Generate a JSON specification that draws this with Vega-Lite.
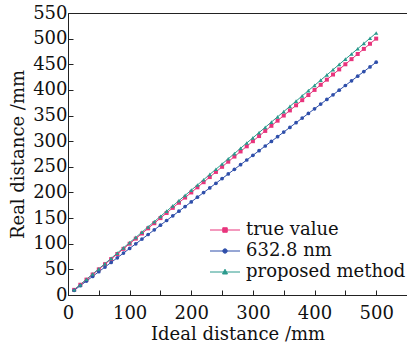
{
  "$schema": "https://vega.github.io/schema/vega-lite/v6.json",
  "autosize": {"type": "none"},
  "padding": {"left": 68, "top": 13, "right": 0, "bottom": 55},
  "width": 339,
  "height": 282,
  "background": "white",
  "config": {
    "font": "DejaVu Serif",
    "view": {"stroke": "#222", "strokeWidth": 1},
    "axis": {"grid": false, "domainColor": "#222", "tickColor": "#222", "labelColor": "#111", "titleColor": "#111", "labelFont": "DejaVu Serif", "titleFont": "DejaVu Serif", "labelFontSize": 18, "titleFontSize": 18, "titleFontWeight": "normal", "tickSize": -5, "labelPadding": 9, "domainWidth": 1}
  },
  "data": {"values": [
    {"x":10,"s":"true value","y":10},{"x":20,"s":"true value","y":20},{"x":30,"s":"true value","y":30},{"x":40,"s":"true value","y":40},{"x":50,"s":"true value","y":50},{"x":60,"s":"true value","y":60},{"x":70,"s":"true value","y":70},{"x":80,"s":"true value","y":80},{"x":90,"s":"true value","y":90},{"x":100,"s":"true value","y":100},
    {"x":110,"s":"true value","y":110},{"x":120,"s":"true value","y":120},{"x":130,"s":"true value","y":130},{"x":140,"s":"true value","y":140},{"x":150,"s":"true value","y":150},{"x":160,"s":"true value","y":160},{"x":170,"s":"true value","y":170},{"x":180,"s":"true value","y":180},{"x":190,"s":"true value","y":190},{"x":200,"s":"true value","y":200},
    {"x":210,"s":"true value","y":210},{"x":220,"s":"true value","y":220},{"x":230,"s":"true value","y":230},{"x":240,"s":"true value","y":240},{"x":250,"s":"true value","y":250},{"x":260,"s":"true value","y":260},{"x":270,"s":"true value","y":270},{"x":280,"s":"true value","y":280},{"x":290,"s":"true value","y":290},{"x":300,"s":"true value","y":300},
    {"x":310,"s":"true value","y":310},{"x":320,"s":"true value","y":320},{"x":330,"s":"true value","y":330},{"x":340,"s":"true value","y":340},{"x":350,"s":"true value","y":350},{"x":360,"s":"true value","y":360},{"x":370,"s":"true value","y":370},{"x":380,"s":"true value","y":380},{"x":390,"s":"true value","y":390},{"x":400,"s":"true value","y":400},
    {"x":410,"s":"true value","y":410},{"x":420,"s":"true value","y":420},{"x":430,"s":"true value","y":430},{"x":440,"s":"true value","y":440},{"x":450,"s":"true value","y":450},{"x":460,"s":"true value","y":460},{"x":470,"s":"true value","y":470},{"x":480,"s":"true value","y":480},{"x":490,"s":"true value","y":490},{"x":500,"s":"true value","y":500},
    {"x":10,"s":"632.8 nm","y":9.1},{"x":20,"s":"632.8 nm","y":18.2},{"x":30,"s":"632.8 nm","y":27.2},{"x":40,"s":"632.8 nm","y":36.3},{"x":50,"s":"632.8 nm","y":45.4},{"x":60,"s":"632.8 nm","y":54.5},{"x":70,"s":"632.8 nm","y":63.6},{"x":80,"s":"632.8 nm","y":72.6},{"x":90,"s":"632.8 nm","y":81.7},{"x":100,"s":"632.8 nm","y":90.8},
    {"x":110,"s":"632.8 nm","y":99.9},{"x":120,"s":"632.8 nm","y":109.0},{"x":130,"s":"632.8 nm","y":118.0},{"x":140,"s":"632.8 nm","y":127.1},{"x":150,"s":"632.8 nm","y":136.2},{"x":160,"s":"632.8 nm","y":145.3},{"x":170,"s":"632.8 nm","y":154.4},{"x":180,"s":"632.8 nm","y":163.4},{"x":190,"s":"632.8 nm","y":172.5},{"x":200,"s":"632.8 nm","y":181.6},
    {"x":210,"s":"632.8 nm","y":190.7},{"x":220,"s":"632.8 nm","y":199.8},{"x":230,"s":"632.8 nm","y":208.8},{"x":240,"s":"632.8 nm","y":217.9},{"x":250,"s":"632.8 nm","y":227.0},{"x":260,"s":"632.8 nm","y":236.1},{"x":270,"s":"632.8 nm","y":245.2},{"x":280,"s":"632.8 nm","y":254.2},{"x":290,"s":"632.8 nm","y":263.3},{"x":300,"s":"632.8 nm","y":272.4},
    {"x":310,"s":"632.8 nm","y":281.5},{"x":320,"s":"632.8 nm","y":290.6},{"x":330,"s":"632.8 nm","y":299.6},{"x":340,"s":"632.8 nm","y":308.7},{"x":350,"s":"632.8 nm","y":317.8},{"x":360,"s":"632.8 nm","y":326.9},{"x":370,"s":"632.8 nm","y":336.0},{"x":380,"s":"632.8 nm","y":345.0},{"x":390,"s":"632.8 nm","y":354.1},{"x":400,"s":"632.8 nm","y":363.2},
    {"x":410,"s":"632.8 nm","y":372.3},{"x":420,"s":"632.8 nm","y":381.4},{"x":430,"s":"632.8 nm","y":390.4},{"x":440,"s":"632.8 nm","y":399.5},{"x":450,"s":"632.8 nm","y":408.6},{"x":460,"s":"632.8 nm","y":417.7},{"x":470,"s":"632.8 nm","y":426.8},{"x":480,"s":"632.8 nm","y":435.8},{"x":490,"s":"632.8 nm","y":444.9},{"x":500,"s":"632.8 nm","y":454.0},
    {"x":10,"s":"proposed method","y":10.2},{"x":20,"s":"proposed method","y":20.4},{"x":30,"s":"proposed method","y":30.7},{"x":40,"s":"proposed method","y":40.9},{"x":50,"s":"proposed method","y":51.1},{"x":60,"s":"proposed method","y":61.3},{"x":70,"s":"proposed method","y":71.5},{"x":80,"s":"proposed method","y":81.8},{"x":90,"s":"proposed method","y":92.0},{"x":100,"s":"proposed method","y":102.2},
    {"x":110,"s":"proposed method","y":112.4},{"x":120,"s":"proposed method","y":122.6},{"x":130,"s":"proposed method","y":132.9},{"x":140,"s":"proposed method","y":143.1},{"x":150,"s":"proposed method","y":153.3},{"x":160,"s":"proposed method","y":163.5},{"x":170,"s":"proposed method","y":173.7},{"x":180,"s":"proposed method","y":184.0},{"x":190,"s":"proposed method","y":194.2},{"x":200,"s":"proposed method","y":204.4},
    {"x":210,"s":"proposed method","y":214.6},{"x":220,"s":"proposed method","y":224.8},{"x":230,"s":"proposed method","y":235.1},{"x":240,"s":"proposed method","y":245.3},{"x":250,"s":"proposed method","y":255.5},{"x":260,"s":"proposed method","y":265.7},{"x":270,"s":"proposed method","y":275.9},{"x":280,"s":"proposed method","y":286.2},{"x":290,"s":"proposed method","y":296.4},{"x":300,"s":"proposed method","y":306.6},
    {"x":310,"s":"proposed method","y":316.8},{"x":320,"s":"proposed method","y":327.0},{"x":330,"s":"proposed method","y":337.3},{"x":340,"s":"proposed method","y":347.5},{"x":350,"s":"proposed method","y":357.7},{"x":360,"s":"proposed method","y":367.9},{"x":370,"s":"proposed method","y":378.1},{"x":380,"s":"proposed method","y":388.4},{"x":390,"s":"proposed method","y":398.6},{"x":400,"s":"proposed method","y":408.8},
    {"x":410,"s":"proposed method","y":419.0},{"x":420,"s":"proposed method","y":429.2},{"x":430,"s":"proposed method","y":439.5},{"x":440,"s":"proposed method","y":449.7},{"x":450,"s":"proposed method","y":459.9},{"x":460,"s":"proposed method","y":470.1},{"x":470,"s":"proposed method","y":480.3},{"x":480,"s":"proposed method","y":490.6},{"x":490,"s":"proposed method","y":500.8},{"x":500,"s":"proposed method","y":511.0}
  ]},
  "encoding": {
    "x": {"field": "x", "type": "quantitative", "scale": {"domain": [0, 550], "nice": false, "zero": true}, "axis": {"title": "Ideal distance /mm", "values": [0,50,100,150,200,250,300,350,400,450,500,550], "labelExpr": "datum.value % 100 === 0 && datum.value <= 500 ? datum.label : ''", "labelPadding": 14, "titlePadding": 3, "labelFlush": false}},
    "y": {"field": "y", "type": "quantitative", "scale": {"domain": [0, 550], "nice": false}, "axis": {"title": "Real distance /mm", "values": [0,50,100,150,200,250,300,350,400,450,500,550], "labelPadding": 6, "titlePadding": 5, "labelFlush": false}}
  },
  "layer": [
    {"mark": {"type": "line", "strokeWidth": 1},
     "encoding": {"color": {"field": "s", "type": "nominal", "sort": ["true value", "632.8 nm", "proposed method"], "scale": {"domain": ["true value", "632.8 nm", "proposed method"], "range": ["#E8347C", "#2F4FAA", "#2A9A8C"]},
       "legend": {"title": null, "orient": "none", "legendX": 148, "legendY": 208, "padding": 0, "labelFont": "DejaVu Serif", "labelFontSize": 18, "labelColor": "#111", "labelOffset": 12, "rowPadding": 3, "symbolSize": 100, "symbolStrokeWidth": 1,
         "encode": {"symbols": {"update": {
           "shape": {"signal": "datum.value === 'true value' ? 'M-3,0H3M-0.45,-0.45H0.45V0.45H-0.45Z' : datum.value === '632.8 nm' ? 'M-3,0H3M0.45,0L0.32,0.32L0,0.45L-0.32,0.32L-0.45,0L-0.32,-0.32L0,-0.45L0.32,-0.32Z' : 'M-3,0H3M0,-0.55L0.5,0.4H-0.5Z'"},
           "fill": {"signal": "scale('color', datum.value)"},
           "stroke": {"signal": "scale('color', datum.value)"},
           "opacity": {"value": 1}, "fillOpacity": {"value": 1}}}}}}}},
    {"transform": [{"filter": "datum.s === 'true value'"}],
     "mark": {"type": "point", "filled": true, "opacity": 1, "size": 16, "shape": "square", "color": "#E8347C"}},
    {"transform": [{"filter": "datum.s === '632.8 nm'"}],
     "mark": {"type": "point", "filled": true, "opacity": 1, "size": 14, "shape": "circle", "color": "#2F4FAA"}},
    {"transform": [{"filter": "datum.s === 'proposed method'"}],
     "mark": {"type": "point", "filled": true, "opacity": 1, "size": 18, "shape": "triangle-up", "color": "#2A9A8C"}}
  ]
}
